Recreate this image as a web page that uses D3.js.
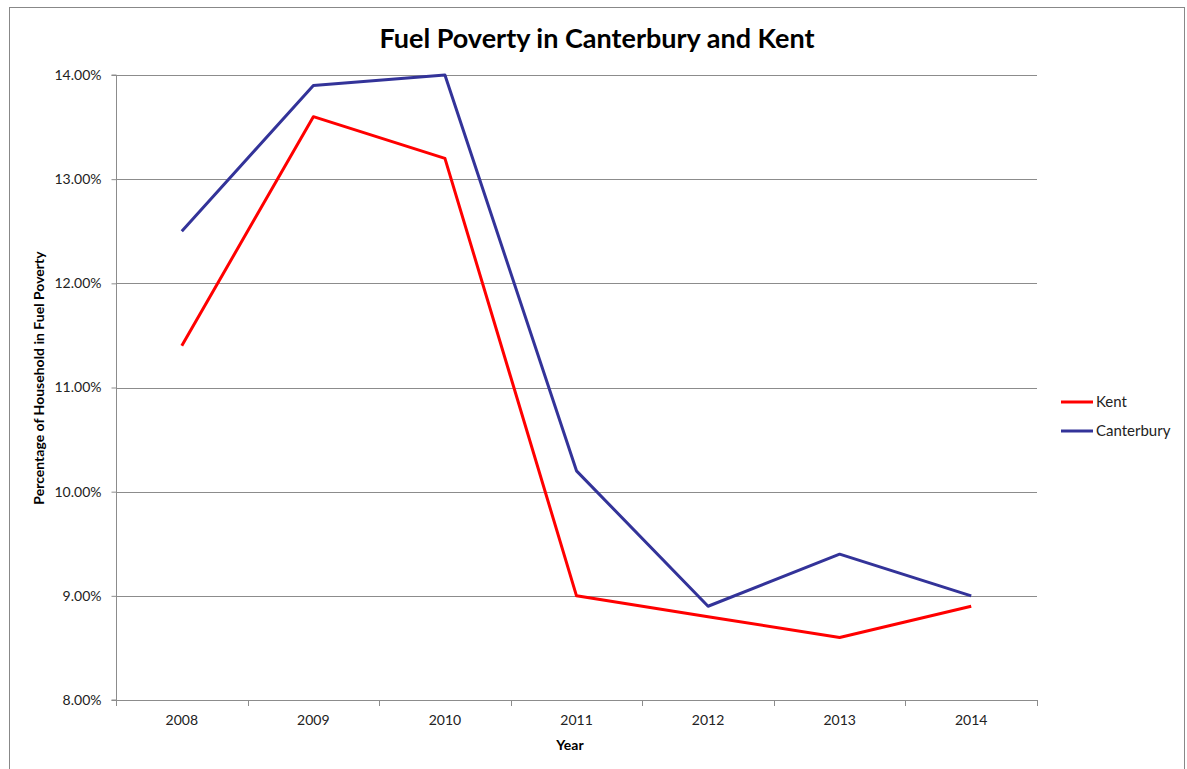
<!DOCTYPE html>
<html>
<head>
<meta charset="utf-8">
<script src="https://cdn.jsdelivr.net/npm/d3@7"></script>
<style>
  body { margin: 0; background: #fff; }
  text { font-family: Lato, "Noto Sans", sans-serif; }
</style>
</head>
<body>
<svg id="chart" width="1187" height="769"></svg>
<script>
// Datos
const years = ["2008", "2009", "2010", "2011", "2012", "2013", "2014"];
const kent = [11.4, 13.6, 13.2, 9.0, 8.8, 8.6, 8.9];
const canterbury = [12.5, 13.9, 14.0, 10.2, 8.9, 9.4, 9.0];
const yTicks = [8, 9, 10, 11, 12, 13, 14];

const series = [
    {name: "Kent", values: kent, color: "#ff0000"},
    {name: "Canterbury", values: canterbury, color: "#333399"}
];

const svg = d3.select("#chart");

// marco exterior
svg.append("rect")
    .attr("x", 9.5).attr("y", 7.5)
    .attr("width", 1175).attr("height", 770)
    .attr("fill", "none")
    .attr("stroke", "#888")
    .attr("stroke-width", 1);

const plot = {left: 116, right: 1037, top: 75, bottom: 700};

const x = d3.scaleBand()
    .domain(years)
    .range([plot.left, plot.right]);

const y = d3.scaleLinear()
    .domain([8, 14])
    .range([plot.bottom, plot.top]);

// líneas de cuadrícula
svg.append("g")
    .selectAll("line")
    .data(yTicks)
    .enter()
    .append("line")
    .attr("x1", plot.left)
    .attr("x2", plot.right)
    .attr("y1", d => Math.round(y(d)) + 0.5)
    .attr("y2", d => Math.round(y(d)) + 0.5)
    .attr("stroke", "#8c8c8c")
    .attr("stroke-width", 1);

// eje Y
const yAxis = svg.append("g")
    .attr("transform", `translate(${plot.left + 0.5},0)`)
    .call(d3.axisLeft(y).tickValues(yTicks).tickSize(5).tickPadding(10)
        .tickFormat(d => d.toFixed(2) + "%"));
yAxis.select(".domain").attr("stroke", "#8c8c8c").attr("d", `M-5,${plot.top}H0V${plot.bottom}H-5`);
yAxis.selectAll(".tick line").attr("stroke", "#8c8c8c");
yAxis.selectAll(".tick text")
    .attr("font-size", "14px")
    .attr("fill", "#222")
    .style("font-family", "Lato, sans-serif");

// eje X
const xAxis = svg.append("g")
    .attr("transform", `translate(0,${plot.bottom + 0.5})`)
    .call(d3.axisBottom(x).tickSize(0).tickPadding(15));
xAxis.select(".domain").remove();
xAxis.selectAll(".tick text")
    .attr("font-size", "14px")
    .attr("fill", "#222")
    .style("font-family", "Lato, sans-serif");

// marcas entre categorías
const bounds = years.map(d => x(d)).concat([plot.right]);
svg.append("g")
    .selectAll("line")
    .data(bounds)
    .enter()
    .append("line")
    .attr("x1", d => Math.round(d) + 0.5)
    .attr("x2", d => Math.round(d) + 0.5)
    .attr("y1", plot.bottom)
    .attr("y2", plot.bottom + 6)
    .attr("stroke", "#8c8c8c");

// líneas de datos
const line = d3.line()
    .x((d, i) => x(years[i]) + x.bandwidth() / 2)
    .y(d => y(d));

svg.append("g")
    .selectAll("path")
    .data(series)
    .enter()
    .append("path")
    .attr("d", d => line(d.values))
    .attr("fill", "none")
    .attr("stroke", d => d.color)
    .attr("stroke-width", 3)
    .attr("stroke-linejoin", "round");

// título
svg.append("text")
    .attr("x", 597)
    .attr("y", 48)
    .attr("text-anchor", "middle")
    .attr("font-size", "27px")
    .attr("font-weight", "bold")
    .attr("fill", "#000")
    .text("Fuel Poverty in Canterbury and Kent");

// títulos de ejes
svg.append("text")
    .attr("x", 570)
    .attr("y", 750)
    .attr("text-anchor", "middle")
    .attr("font-size", "14px")
    .attr("font-weight", "bold")
    .text("Year");

svg.append("text")
    .attr("transform", "translate(44,378) rotate(-90)")
    .attr("text-anchor", "middle")
    .attr("font-size", "14px")
    .attr("font-weight", "bold")
    .text("Percentage of Household in Fuel Poverty");

// leyenda
const legend = svg.append("g")
    .selectAll("g")
    .data(series)
    .enter()
    .append("g")
    .attr("transform", (d, i) => `translate(1061,${402 + i * 29})`);

legend.append("line")
    .attr("x1", 0).attr("x2", 32)
    .attr("y1", 0).attr("y2", 0)
    .attr("stroke", d => d.color)
    .attr("stroke-width", 3);

legend.append("text")
    .attr("x", 35)
    .attr("y", 5)
    .attr("font-size", "15px")
    .attr("fill", "#222")
    .text(d => d.name);
</script>
</body>
</html>
